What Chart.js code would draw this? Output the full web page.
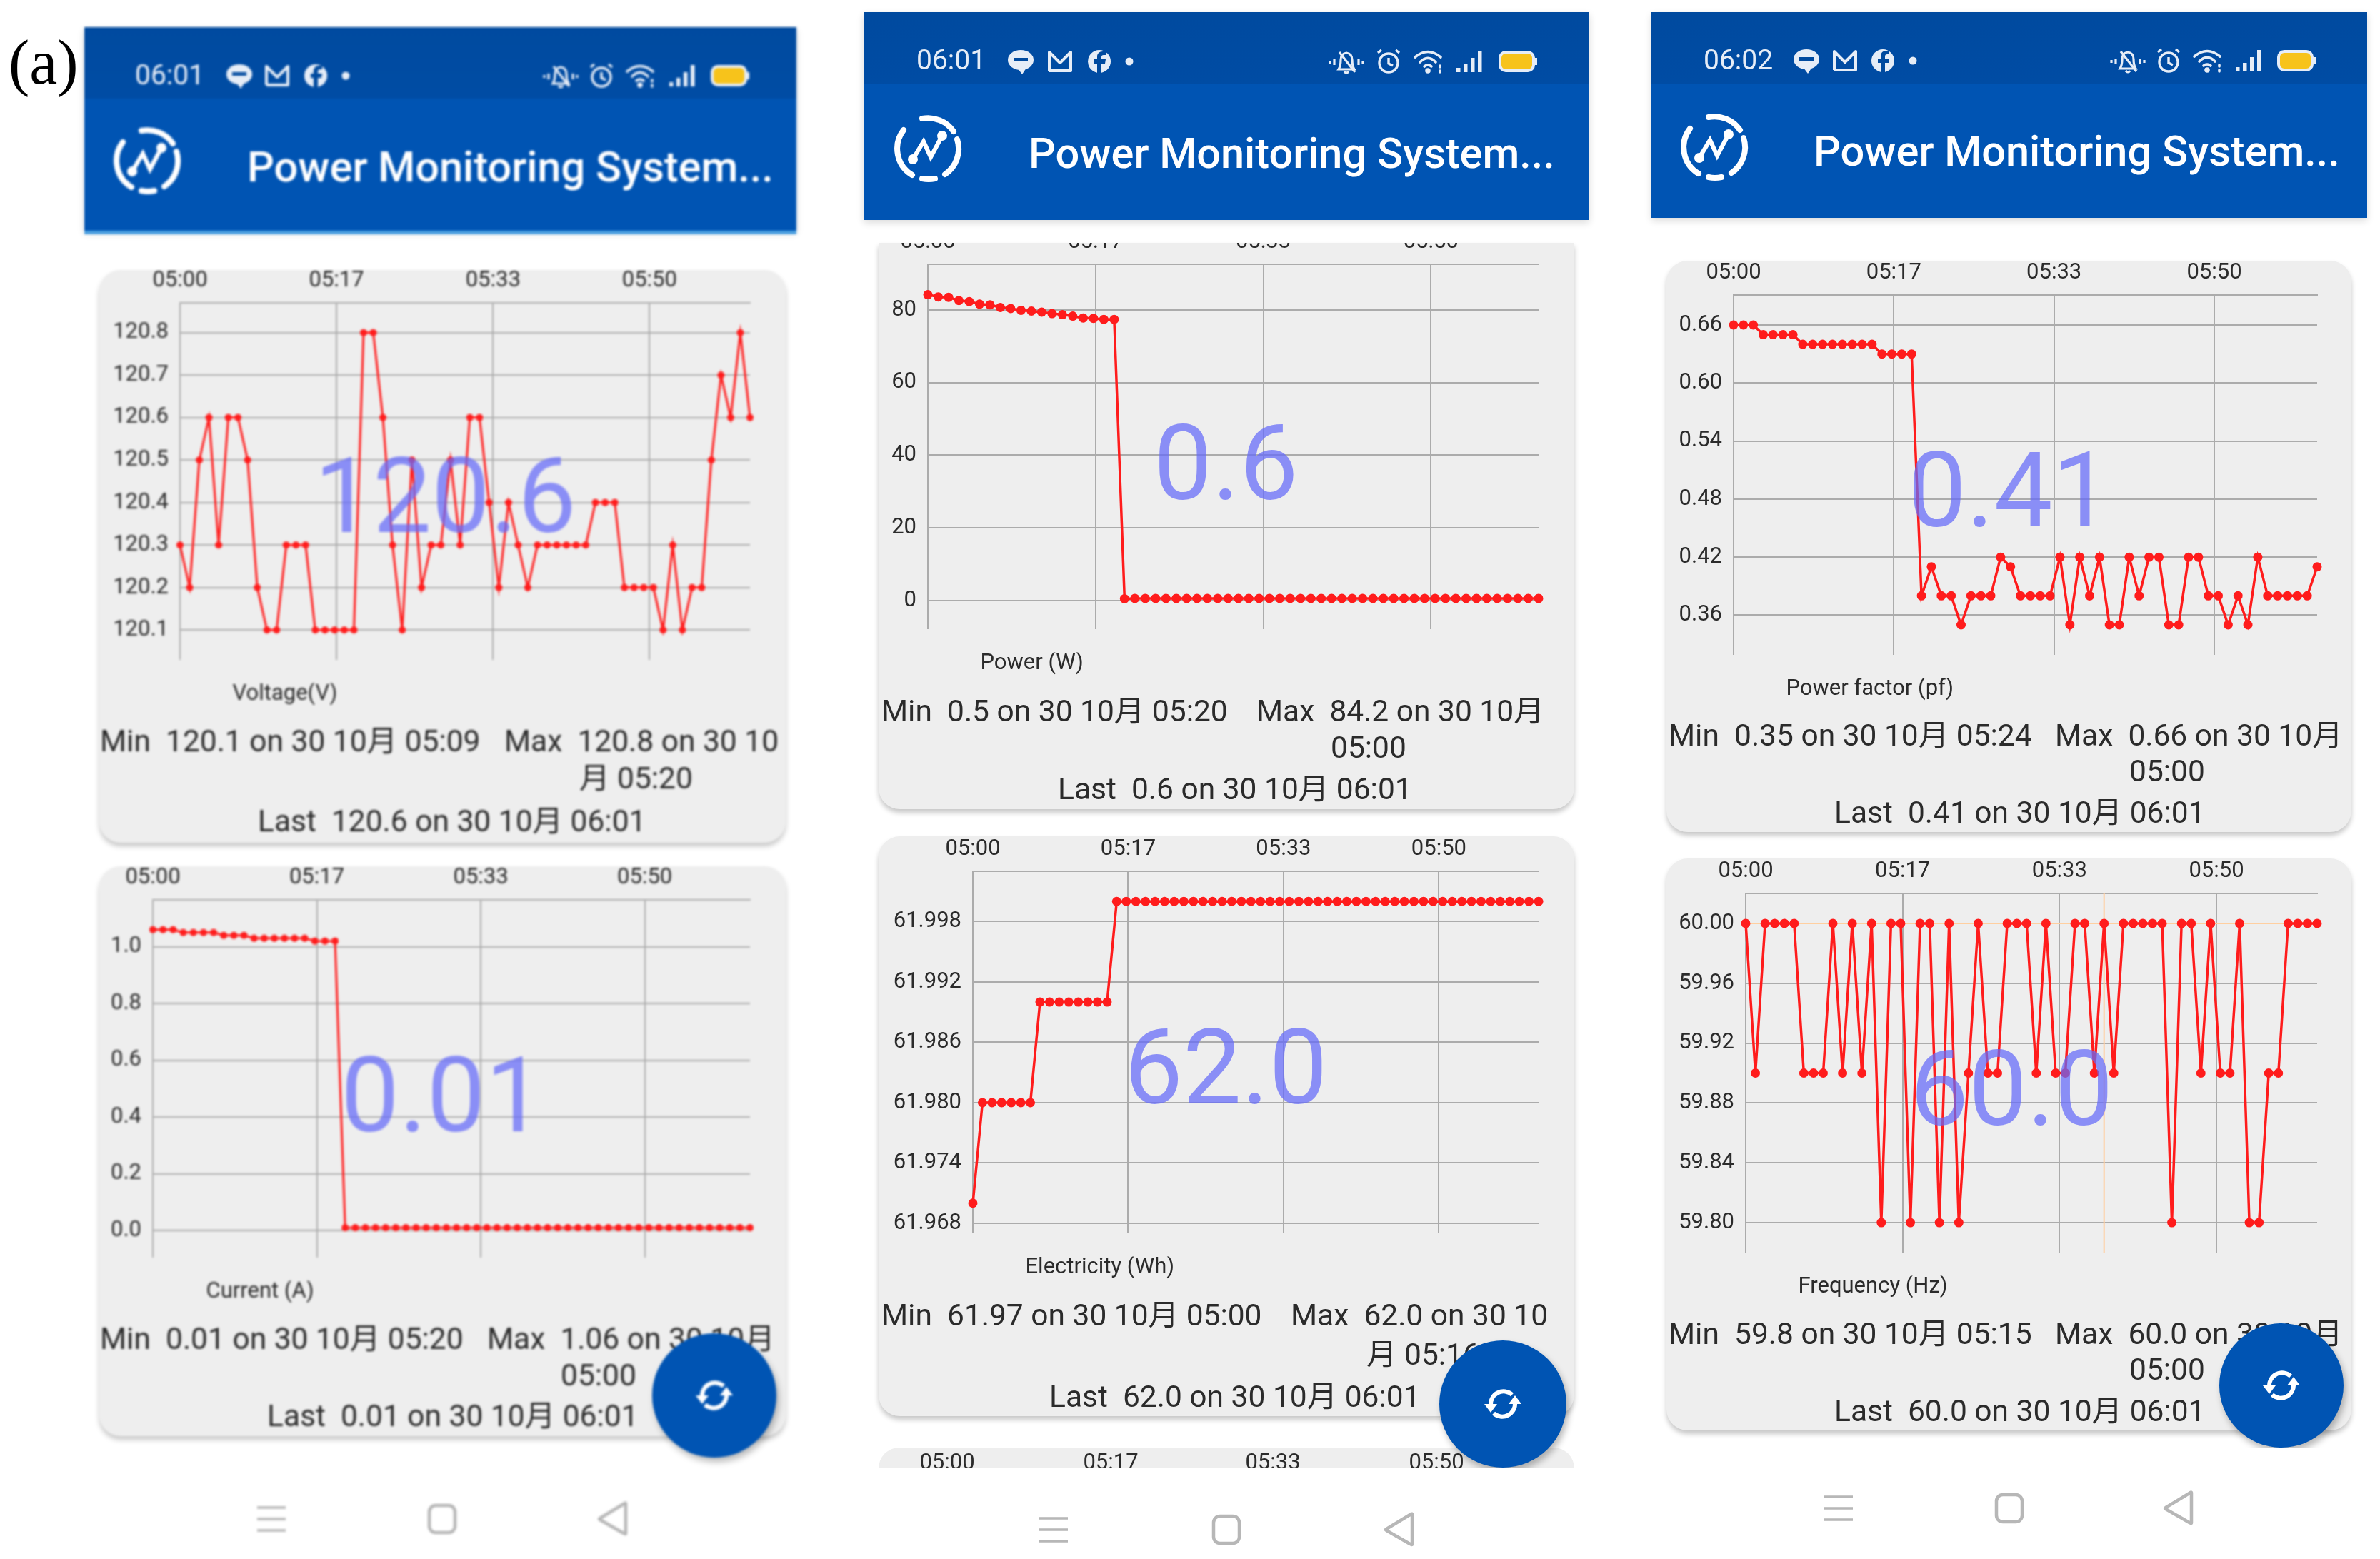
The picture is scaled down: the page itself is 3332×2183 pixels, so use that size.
<!DOCTYPE html>
<html>
<head>
<meta charset="utf-8">
<script src="https://cdn.jsdelivr.net/npm/chart.js@4"></script>
<style>
html,body{margin:0;padding:0;background:#fff;width:3332px;height:2183px;overflow:hidden}
#root{position:absolute;left:0;top:0;width:3332px;height:2183px;font-family:Roboto,"Noto Sans CJK SC",sans-serif}
.panel{position:absolute;left:0;top:0;width:3332px;height:2183px}
.abs{position:absolute}
.t{position:absolute;white-space:pre;transform:translateY(-50%);line-height:1.17}
.card{position:absolute;background:#eeeeee;overflow:hidden;box-shadow:0 5px 7px rgba(0,0,0,.22)}
canvas{position:absolute;display:block}
svg{position:absolute;left:0;top:0;overflow:visible}
</style>
</head>
<body>
<div id="root"></div>
<script>
/* ---------- chart values ---------- */
const xTickLabels = ['05:00','05:17','05:33','05:50'];
const xTickPositions = [0, 16.2, 32.4, 48.6];

const voltage = [120.3,120.2,120.5,120.6,120.3,120.6,120.6,120.5,120.2,120.1,120.1,120.3,120.3,120.3,120.1,120.1,120.1,120.1,120.1,120.8,120.8,120.6,120.3,120.1,120.5,120.2,120.3,120.3,120.5,120.3,120.6,120.6,120.4,120.2,120.4,120.3,120.2,120.3,120.3,120.3,120.3,120.3,120.3,120.4,120.4,120.4,120.2,120.2,120.2,120.2,120.1,120.3,120.1,120.2,120.2,120.5,120.7,120.6,120.8,120.6];
const current = [1.06,1.06,1.06,1.05,1.05,1.05,1.05,1.04,1.04,1.04,1.03,1.03,1.03,1.03,1.03,1.03,1.02,1.02,1.02,0.01,0.01,0.01,0.01,0.01,0.01,0.01,0.01,0.01,0.01,0.01,0.01,0.01,0.01,0.01,0.01,0.01,0.01,0.01,0.01,0.01,0.01,0.01,0.01,0.01,0.01,0.01,0.01,0.01,0.01,0.01,0.01,0.01,0.01,0.01,0.01,0.01,0.01,0.01,0.01,0.01];
const power = [84.2,83.6,83.5,82.6,82.3,81.6,81.4,80.7,80.4,79.9,79.7,79.4,79.0,78.7,78.3,77.8,77.7,77.4,77.4,0.5,0.6,0.6,0.6,0.6,0.6,0.6,0.6,0.6,0.6,0.6,0.6,0.6,0.6,0.6,0.6,0.6,0.6,0.6,0.6,0.6,0.6,0.6,0.6,0.6,0.6,0.6,0.6,0.6,0.6,0.6,0.6,0.6,0.6,0.6,0.6,0.6,0.6,0.6,0.6,0.6];
const electricity = [61.97,61.98,61.98,61.98,61.98,61.98,61.98,61.99,61.99,61.99,61.99,61.99,61.99,61.99,61.99,62,62,62,62,62,62,62,62,62,62,62,62,62,62,62,62,62,62,62,62,62,62,62,62,62,62,62,62,62,62,62,62,62,62,62,62,62,62,62,62,62,62,62,62,62];
const powerFactor = [0.66,0.66,0.66,0.65,0.65,0.65,0.65,0.64,0.64,0.64,0.64,0.64,0.64,0.64,0.64,0.63,0.63,0.63,0.63,0.38,0.41,0.38,0.38,0.35,0.38,0.38,0.38,0.42,0.41,0.38,0.38,0.38,0.38,0.42,0.35,0.42,0.38,0.42,0.35,0.35,0.42,0.38,0.42,0.42,0.35,0.35,0.42,0.42,0.38,0.38,0.35,0.38,0.35,0.42,0.38,0.38,0.38,0.38,0.38,0.41];
const frequency = [60,59.9,60,60,60,60,59.9,59.9,59.9,60,59.9,60,59.9,60,59.8,60,60,59.8,60,60,59.8,60,59.8,59.9,60,59.9,59.9,60,60,60,59.9,60,59.9,59.9,60,60,59.9,60,59.9,60,60,60,60,60,59.8,60,60,59.9,60,59.9,59.9,60,59.8,59.8,59.9,59.9,60,60,60,60];

const voltageTicks = ['120.1','120.2','120.3','120.4','120.5','120.6','120.7','120.8'];
const currentTicks = ['0.0','0.2','0.4','0.6','0.8','1.0'];
const powerTicks = ['0','20','40','60','80'];
const electricityTicks = ['61.968','61.974','61.980','61.986','61.992','61.998'];
const powerFactorTicks = ['0.36','0.42','0.48','0.54','0.60','0.66'];
const frequencyTicks = ['59.80','59.84','59.88','59.92','59.96','60.00'];

const voltageLines = ['Min  120.1 on 30 10月 05:09','Max  120.8 on 30 10','月 05:20','Last  120.6 on 30 10月 06:01'];
const currentLines = ['Min  0.01 on 30 10月 05:20','Max  1.06 on 30 10月','05:00','Last  0.01 on 30 10月 06:01'];
const powerLines = ['Min  0.5 on 30 10月 05:20','Max  84.2 on 30 10月','05:00','Last  0.6 on 30 10月 06:01'];
const electricityLines = ['Min  61.97 on 30 10月 05:00','Max  62.0 on 30 10','月 05:16','Last  62.0 on 30 10月 06:01'];
const powerFactorLines = ['Min  0.35 on 30 10月 05:24','Max  0.66 on 30 10月','05:00','Last  0.41 on 30 10月 06:01'];
const frequencyLines = ['Min  59.8 on 30 10月 05:15','Max  60.0 on 30 10月','05:00','Last  60.0 on 30 10月 06:01'];

const appTitle = 'Power Monitoring System...';
const statusTimes = ['06:01','06:01','06:02'];

/* ---------- layout & styling ---------- */
const RED='#ff1c1c', GRID='#ababab', INK='#2b2b2b', BLUE='#0054b3', DARK='#004a9f';
const root=document.getElementById('root');
function el(tag,cls,css,parent,html){const e=document.createElement(tag);if(cls)e.className=cls;if(css)e.style.cssText=css;if(html!==undefined)e.innerHTML=html;(parent||root).appendChild(e);return e;}
function text(parent,s,x,y,size,color,extra){const e=el('div','t',`left:${x}px;top:${y}px;font-size:${size}px;color:${color};${extra||''}`,parent);e.textContent=s;return e;}

const panels=[
 {h:[118,38,997,285],status:100,lineY:323,lineH:5,time:[189,106],title:[346,235],logo:[206,225],blur:1.7,
  leftIcons:[335,388,442,484],rightIcons:[785,842,898,957,1021],iy:106,
  fab:[1000,1954,87],clip:2183,nav:[380,619,857,2127]},
 {h:[1209,17,1016,291],status:101,time:[1283,85],title:[1440,216],logo:[1299,208],blur:0,
  leftIcons:[1429,1484,1539,1581],rightIcons:[1885,1944,2001,2059,2124],iy:86,
  fab:[2104,1966,89],clip:2056,nav:[1475,1717,1958,2142]},
 {h:[2312,17,1002,288],status:100,time:[2385,85],title:[2539,213],logo:[2400,206],blur:0,
  leftIcons:[2529,2583,2636,2678],rightIcons:[2979,3036,3092,3150,3214],iy:85,
  fab:[3194,1940,87],clip:2027,nav:[2574,2813,3049,2112]}
];

const cards=[
 {p:0,label:'Voltage(V)',data:voltage,ticks:voltageTicks,lines:voltageLines,big:'120.6',card:[139,378,961,802],axis:[252,1050,424,924],range:[120.03,120.87],
  legend:[284,977],tx:[140,706,811,361],ty:[1038,1038,1090,1150],bigPos:[440,696],r:5,lw:3},
 {p:0,label:'Current (A)',data:current,ticks:currentTicks,lines:currentLines,big:'0.01',card:[139,1213,961,798],axis:[214,1050,1260,1761],range:[-0.095,1.165],
  legend:[247,1814],tx:[140,682,785,374],ty:[1875,1875,1926,1983],bigPos:[477,1535],r:5,lw:3},
 {p:1,label:'Power (W)',data:power,ticks:powerTicks,lines:powerLines,big:'0.6',card:[1230,340,974,793],axis:[1299,2154,370,881],range:[-7.87,92.57],
  legend:[1331,934],tx:[1234,1759,1863,1481],ty:[996,996,1047,1105],bigPos:[1615,650],r:6.5,lw:3.5,flatTop:true},
 {p:1,label:'Electricity (Wh)',data:electricity,ticks:electricityTicks,lines:electricityLines,big:'62.0',card:[1230,1171,974,812],axis:[1362,2154,1220,1727],range:[61.967,62.003],
  legend:[1394,1780],tx:[1234,1807,1913,1469],ty:[1842,1842,1897,1956],bigPos:[1574,1496],r:6.5,lw:3.5},
 {p:2,label:'Power factor (pf)',data:powerFactor,ticks:powerFactorTicks,lines:powerFactorLines,big:'0.41',card:[2333,365,959,800],axis:[2427,3244,413,917],range:[0.319,0.691],
  legend:[2459,970],tx:[2336,2877,2981,2568],ty:[1030,1030,1080,1138],bigPos:[2671,688],r:6.5,lw:3.5},
 {p:2,label:'Frequency (Hz)',data:frequency,ticks:frequencyTicks,lines:frequencyLines,big:'60.0',card:[2333,1202,959,801],axis:[2444,3244,1251,1754],range:[59.78,60.02],
  legend:[2476,1807],tx:[2336,2877,2981,2568],ty:[1868,1868,1918,1976],bigPos:[2674,1526],r:6.5,lw:3.5,cross:{x:37,y:60}}
];

/* ---------- icons ---------- */
const statusCol='#e6edf7';
function leftIconsSvg(p){const [a,b,c,d]=p.leftIcons,y=p.iy;return `
<g transform="translate(${a},${y})"><ellipse rx="18" ry="14" cy="-2" fill="${statusCol}"/><path d="M-4 10 L2 18 L8 9 Z" fill="${statusCol}"/><rect x="-10" y="-5" width="20" height="5" fill="${DARK}"/></g>
<g transform="translate(${b},${y})" fill="none" stroke="${statusCol}" stroke-width="4" stroke-linejoin="round"><path d="M-15 13 V-13 L0 2 L15 -13 V13 H-15"/></g>
<g transform="translate(${c},${y})"><circle r="16" fill="${statusCol}"/><path d="M3 16 V3 H8 L9 -3 H3 V-6 Q3 -9 6 -9 H9 V-14 H5 Q-3 -14 -3 -6 V-3 H-7 V3 H-3 V16 Z" fill="${DARK}"/></g>
<circle cx="${d}" cy="${y}" r="5.5" fill="${statusCol}"/>`;}
function rightIconsSvg(p){const [a,b,c,d,e]=p.rightIcons,y=p.iy;return `
<g transform="translate(${a},${y})" fill="none" stroke="${statusCol}" stroke-width="3.2"><path d="M-11 11 Q-8 6 -8 -2 Q-8 -11 0 -12 Q8 -11 8 -2 Q8 6 11 11 Z"/><path d="M-10 -13 L12 15"/><path d="M-3 14 Q0 18 3 14"/><path d="M-17 -3 V5 M-23 -1 V3 M17 -3 V5 M23 -1 V3"/></g>
<g transform="translate(${b},${y})" fill="none" stroke="${statusCol}" stroke-width="3.4"><circle r="13" cy="2"/><path d="M0 -5 V3 L6 6"/><path d="M-15 -12 L-10 -16 M15 -12 L10 -16"/></g>
<g transform="translate(${c},${y})" fill="none" stroke="${statusCol}" stroke-width="3.6" stroke-linecap="round"><path d="M-20 -6 Q-2 -21 16 -6"/><path d="M-13 1 Q-2 -10 9 1"/><path d="M-7 7 Q-2 3 3 7"/><circle cx="-2" cy="13" r="2" fill="${statusCol}"/><path d="M15 6 V8 M15 13 V15"/></g>
<g transform="translate(${d},${y})" fill="${statusCol}"><rect x="-20" y="9" width="5.5" height="6"/><rect x="-10" y="3" width="5.5" height="12"/><rect x="0" y="-5" width="5.5" height="20"/><rect x="10" y="-15" width="5.5" height="30"/></g>
<g transform="translate(${e},${y})"><rect x="-24" y="-13" width="47" height="26" rx="8" fill="#f7c31b" stroke="${statusCol}" stroke-width="4"/><rect x="25" y="-5" width="3" height="10" fill="${statusCol}"/></g>`;}
function logoSvg(p){const [x,y]=p.logo;return `
<g transform="translate(${x},${y})" fill="none" stroke="#fff" stroke-width="8" stroke-linecap="round">
<path d="M-8 -42 A43 43 0 0 1 36 -24"/><path d="M41 -13 A43 43 0 0 1 24 36"/><path d="M10 42 A43 43 0 0 1 -8 42"/><path d="M-22 37 A43 43 0 0 1 -34 -26"/>
<path d="M-21 15 L-6 -10 L4 12 L20 -18" stroke-width="6"/><circle cx="-21" cy="15" r="3" fill="#fff"/><circle cx="20" cy="-18" r="3" fill="#fff"/></g>`;}
function syncSvg(x,y){return `
<g transform="translate(${x},${y})" fill="none" stroke="#fff" stroke-width="6"><path d="M-17 2 A18 18 0 0 1 13 -13"/><path d="M17 -2 A18 18 0 0 1 -13 13"/><path d="M-26 0 H-8 L-17 12 Z" fill="#fff" stroke="none"/><path d="M26 0 H8 L17 -12 Z" fill="#fff" stroke="none"/></g>`;}
function navSvg(p){const [a,b,c,y]=p.nav,g='#b7b7b7';return `
<g transform="translate(${a},${y})" stroke="${g}" stroke-width="3.5"><path d="M-20 -16 H20 M-20 0 H20 M-20 16 H20"/></g>
<rect x="${b-18}" y="${y-19}" width="36" height="38" rx="9" fill="none" stroke="${g}" stroke-width="4.5"/>
<path transform="translate(${c},${y})" d="M19 -22 V20 Q19 22 16 20 L-17 1 Q-19 0 -17 -1 L16 -21 Q19 -23 19 -22 Z" fill="none" stroke="${g}" stroke-width="4.5"/>`;}

/* ---------- page shell ---------- */
text(root,'(a)',12,88,88,'#000','font-family:"Liberation Serif",serif;');
const wraps=panels.map(p=>{
  const w=el('div','panel',p.blur?`filter:blur(${p.blur}px)`:'');
  el('div','abs',`left:${p.h[0]}px;top:${p.h[1]}px;width:${p.h[2]}px;height:${p.h[3]}px;background:${BLUE};box-shadow:0 4px 10px rgba(0,0,0,.14);z-index:5`,w);
  el('div','abs',`left:${p.h[0]}px;top:${p.h[1]}px;width:${p.h[2]}px;height:${p.status}px;background:linear-gradient(${DARK},#004ca4);z-index:5`,w);
  if(p.lineY) el('div','abs',`left:${p.h[0]}px;top:${p.lineY}px;width:${p.h[2]}px;height:${p.lineH}px;background:#4a9fe0;z-index:5`,w);
  return w;
});
panels.forEach((p,i)=>{
  const w=wraps[i];
  const top=el('div','abs','left:0;top:0;z-index:6',w);
  text(top,statusTimes[i],p.time[0],p.time[1],39,statusCol);
  text(top,appTitle,p.title[0],p.title[1],59.5,'#fff','font-weight:500;');
  el('div','',null,top,`<svg width="10" height="10">${leftIconsSvg(p)}${rightIconsSvg(p)}${logoSvg(p)}</svg>`);
  /* floating button and soft-key row */
  const clip=el('div','abs',`left:0;top:0;width:3332px;height:${p.clip}px;overflow:hidden;z-index:8`,w);
  const [fx,fy,fr]=p.fab;
  el('div','abs',`left:${fx-fr}px;top:${fy-fr}px;width:${2*fr}px;height:${2*fr}px;border-radius:50%;background:${BLUE};box-shadow:3px 6px 10px rgba(0,0,0,.28)`,clip);
  el('div','',null,clip,`<svg width="10" height="10">${syncSvg(fx,fy)}</svg>`);
  el('div','',null,w,`<svg width="10" height="10">${navSvg(p)}</svg>`);
});

/* partially scrolled third card of the middle phone */
const peek=el('div','abs','left:1230px;top:2027px;width:974px;height:29px;background:#eee;border-radius:30px 30px 0 0;overflow:hidden;',wraps[1]);
[1326,1555,1782,2011].forEach((x,i)=>{const e=text(peek,xTickLabels[i],x-1230,20,31,INK);e.style.transform='translate(-50%,-50%)';});

/* ---------- charts ---------- */
const legendMover={id:'legendMover',afterLayout(chart){
  const L=chart.legend,t=chart.options.plugins.legendMover;
  if(!L||!t)return;
  L.left=t.x; L.top=t.y-L.height/2; L.bottom=L.top+L.height; L.right=chart.width;
}};
const crosshair={id:'crosshair',beforeDatasetsDraw(chart){
  const t=chart.options.plugins.crosshair; if(!t||t.x===undefined)return;
  const {ctx,chartArea:a,scales:{x,y}}=chart;
  ctx.save();ctx.strokeStyle='#ffcfa0';ctx.lineWidth=2;ctx.beginPath();
  ctx.moveTo(x.getPixelForValue(t.x),a.top);ctx.lineTo(x.getPixelForValue(t.x),a.bottom);
  ctx.moveTo(a.left,y.getPixelForValue(t.y));ctx.lineTo(a.right,y.getPixelForValue(t.y));
  ctx.stroke();ctx.restore();
}};
Chart.defaults.font.family='Roboto,"Noto Sans CJK SC",sans-serif';

cards.forEach(c=>{
  const w=wraps[c.p];
  const [cx,cy,cw,ch]=c.card,[al,ar,at,ab]=c.axis;
  const card=el('div','card',`left:${cx}px;top:${cy}px;width:${cw}px;height:${ch}px;border-radius:${c.flatTop?'0 0 30px 30px':'30px'}`,w);
  const headH=60, canvasTop=at-headH, canvasH=c.legend[1]+34-canvasTop;
  const cv=el('canvas','',`left:0;top:${canvasTop-cy}px`,card);
  cv.width=cw; cv.height=canvasH;
  const vals=c.ticks.map(Number);
  const chart=new Chart(cv.getContext('2d'),{
    type:'line',
    data:{datasets:[{label:c.label,data:c.data.map((v,i)=>({x:i,y:v})),borderColor:RED,backgroundColor:RED,borderWidth:c.lw,pointRadius:c.r,pointHoverRadius:c.r,pointBackgroundColor:RED,pointBorderWidth:0,tension:0,clip:false}]},
    plugins:[legendMover,crosshair],
    options:{
      responsive:false,animation:false,devicePixelRatio:1,events:[],
      layout:{padding:{left:0,top:0,right:cx+cw-ar,bottom:c.legend[1]+34-ab-40}},
      plugins:{
        title:{display:false},tooltip:{enabled:false},
        legendMover:{x:c.legend[0]-cx,y:c.legend[1]-canvasTop},
        crosshair:c.cross||{},
        legend:{display:true,position:'bottom',align:'start',
          labels:{usePointStyle:true,pointStyle:'line',pointStyleWidth:26,padding:0,color:INK,font:{size:31}}}
      },
      scales:{
        x:{type:'linear',position:'top',min:0,max:c.data.length-1,
           afterBuildTicks:s=>{s.ticks=xTickPositions.map(v=>({value:v}));},
           afterFit:s=>{s.height=headH;},
           ticks:{autoSkip:false,maxRotation:0,padding:12,color:INK,font:{size:31},callback:(v,i)=>xTickLabels[i]},
           grid:{color:GRID,lineWidth:2,drawTicks:false},
           border:{display:true,color:GRID,width:2}},
        y:{type:'linear',position:'left',min:c.range[0],max:c.range[1],
           afterBuildTicks:s=>{s.ticks=vals.map(v=>({value:v}));},
           afterFit:s=>{s.width=al-cx;},
           ticks:{autoSkip:false,padding:16,color:INK,font:{size:31},callback:(v,i)=>c.ticks[i]},
           grid:{color:GRID,lineWidth:2,drawTicks:false},
           border:{display:false}}
      }
    }
  });
  const d=chart.chartArea.bottom-(ab-canvasTop);
  if(Math.abs(d)>0.4){chart.options.layout.padding.bottom=Math.max(0,chart.options.layout.padding.bottom+d);chart.update('none');}

  c.lines.forEach((s,i)=>text(w,s,c.tx[i],c.ty[i],42.5,INK));
  text(w,c.big,c.bigPos[0],c.bigPos[1],146,'rgba(100,105,250,.72)');
});
</script>
</body>
</html>
